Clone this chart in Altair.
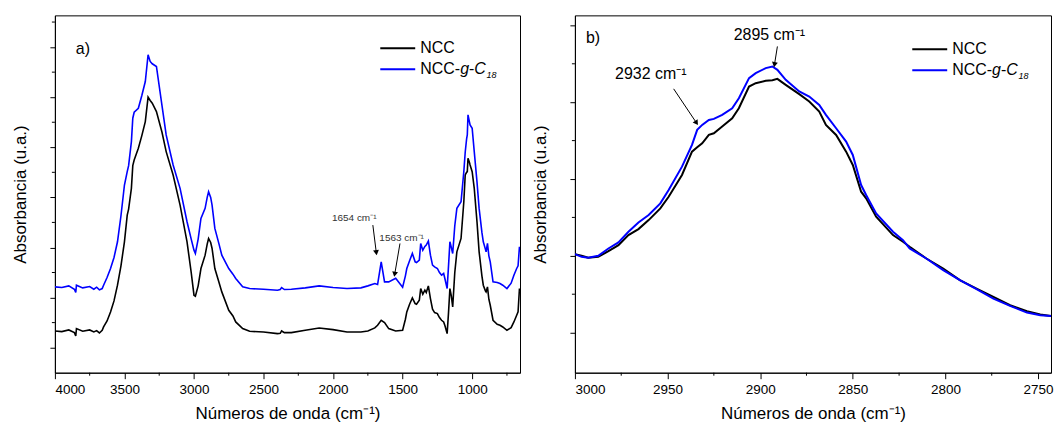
import altair as alt
import pandas as pd

FONT = "Liberation Sans"

# ---------------- panel a) data (wavenumber cm-1, absorbance a.u.) ----------------
wn_a = [4000, 3950, 3900, 3860, 3850, 3845, 3800, 3750, 3720, 3700, 3680, 3660, 3650,
        3625, 3600, 3575, 3550, 3525, 3500, 3480, 3470, 3450, 3440, 3430, 3400, 3375,
        3350, 3330, 3315, 3300, 3270, 3230, 3200, 3150, 3100, 3050, 3020, 3000, 2990,
        2970, 2950, 2920, 2905, 2895, 2880, 2870, 2850, 2820, 2800, 2750, 2720, 2700,
        2650, 2600, 2500, 2400, 2380, 2370, 2350, 2300, 2200, 2100, 2000, 1900, 1800,
        1750, 1700, 1680, 1654, 1630, 1600, 1550, 1500, 1480, 1470, 1450, 1430, 1410,
        1400, 1380, 1370, 1355, 1340, 1330, 1315, 1300, 1285, 1270, 1250, 1235, 1220,
        1205, 1195, 1180, 1170, 1160, 1150, 1140, 1125, 1110, 1080, 1060, 1050, 1040,
        1035, 1030, 1020, 1015, 1000, 985, 965, 950, 930, 920, 905, 900, 890, 880,
        870, 850, 820, 800, 780, 750, 720, 700, 680, 670, 660, 656]
abs_a_ncc = [125, 123, 128, 120, 110, 132, 124, 128, 122, 126, 119, 127, 137,
             155, 182, 215, 262, 320, 392, 472, 490, 552, 620, 637, 672, 710,
             752, 825, 815, 807, 782, 720, 662, 592, 502, 392, 300, 232, 229,
             260, 312, 352, 385, 402, 390, 372, 312, 270, 242, 187, 170, 152,
             132, 124, 122, 117, 118, 125, 120, 120, 127, 134, 129, 122, 122,
             125, 134, 142, 157, 150, 132, 125, 127, 160, 182, 205, 224, 207,
             205, 217, 252, 235, 247, 240, 260, 222, 190, 180, 177, 165, 157,
             152, 140, 117, 180, 252, 230, 197, 300, 362, 402, 512, 592, 600,
             602, 642, 630, 622, 602, 552, 450, 362, 290, 262, 245, 242, 257, 220,
             202, 157, 145, 142, 137, 127, 135, 152, 172, 182, 252, 242]
abs_a_c18 = [257, 255, 260, 250, 240, 262, 254, 258, 250, 256, 248, 252, 262,
             285, 312, 345, 392, 470, 562, 602, 620, 692, 762, 780, 792, 830,
             872, 952, 932, 925, 917, 800, 712, 622, 552, 452, 400, 367, 357,
             400, 462, 492, 525, 542, 525, 502, 432, 385, 352, 312, 295, 282,
             257, 252, 250, 247, 249, 255, 249, 250, 254, 260, 255, 252, 254,
             260, 267, 264, 332, 272, 272, 283, 256, 290, 312, 335, 357, 332,
             330, 337, 387, 367, 378, 382, 394, 352, 322, 317, 312, 300, 292,
             297, 280, 252, 320, 392, 375, 357, 440, 492, 512, 602, 660, 700,
             712, 772, 752, 742, 732, 662, 570, 492, 420, 392, 370, 362, 387, 350,
             332, 272, 270, 267, 262, 252, 268, 292, 312, 320, 377, 362]

# ---------------- panel b) data ----------------
wn_b = [3000, 2996.4, 2992.8, 2987.4, 2981.9, 2976.5, 2971.1, 2965.7, 2960.2, 2953.9,
        2949.4, 2942.2, 2936.8, 2934.0, 2931.3, 2927.7, 2925.0, 2920.5, 2915.1, 2911.5,
        2906.0, 2902.4, 2897.0, 2893.4, 2890.7, 2886.2, 2878.9, 2873.5, 2868.1, 2864.5,
        2859.0, 2853.6, 2850.0, 2845.5, 2842.8, 2837.4, 2828.3, 2822.9, 2819.3, 2810.3,
        2801.2, 2792.2, 2783.2, 2774.1, 2765.1, 2756.0, 2748.8, 2743.0]
abs_b_ncc = [355, 350, 344, 347, 364, 382, 412, 430, 457, 492,
             527, 592, 662, 675, 687, 712, 717, 737, 762, 792,
             857, 867, 874, 876, 880, 862, 834, 812, 782, 742,
             712, 662, 622, 542, 522, 467, 412, 392, 377, 342,
             312, 277, 252, 227, 202, 184, 174, 170]
abs_b_c18 = [355, 347, 344, 350, 372, 390, 422, 450, 472, 507,
             547, 617, 682, 727, 742, 757, 760, 772, 792, 822,
             882, 897, 912, 917, 907, 877, 842, 827, 802, 772,
             732, 692, 652, 562, 532, 477, 422, 397, 372, 342,
             307, 277, 250, 222, 200, 180, 172, 170]

# ticks
xticks_a = [4000, 3500, 3000, 2500, 2000, 1500, 1000]
xminor_a = [3750, 3250, 2750, 2250, 1750, 1250, 750]
xticks_b = [3000, 2950, 2900, 2850, 2800, 2750]
xminor_b = [2975, 2925, 2875, 2825, 2775]
yticks_a = [75, 225, 375, 525, 675, 825, 975]
yminor_a = [150, 300, 450, 600, 750, 900, 1050]
yticks_b = [120, 350, 580, 810, 1040]
yminor_b = [235, 465, 695, 925]

# annotations
ann_a_text = ["1654 cm⁻¹", "1563 cm⁻¹"]
ann_a_x = [1848, 1507]
ann_a_y = [462, 402]
arr_a = {"x": [1714, 1519], "y": [442, 387], "x2": [1690, 1556], "y2": [362, 297],
         "ang": [172, 190]}
ann_b_text = ["2895 cm⁻¹", "2932 cm⁻¹"]
ann_b_x = [2895, 2959]
ann_b_y = [1012, 894]
arr_b = {"x": [2890.7, 2946.7], "y": [977, 850], "x2": [2892.2, 2934.6], "y2": [925, 750],
         "ang": [190, 147]}

W_A, W_B, H = 466, 477, 358
BLACK, BLUE = "#000000", "#0000FF"
YDOM = [0, 1070]


def ydef(ticks):
    return alt.Y("y:Q", scale=alt.Scale(domain=YDOM, nice=False, zero=False),
                 axis=alt.Axis(labels=False, values=ticks, tickSize=5, grid=False,
                               title="Absorbancia (u.a.)", titlePadding=20,
                               titleFontSize=17, titleFontWeight="normal"))


def panel(xdom, xticks, xminor, yticks, yminor, wn, ncc, wn2, c18, width, lw,
          ann_text, ann_x, ann_y, arr, ann_size, ann_color, tag, tag_pos, leg_pos):
    xs = alt.Scale(domain=xdom, reverse=True, nice=False, zero=False)
    xax = alt.Axis(values=xticks, tickSize=6, grid=False, labelPadding=4, format="d",
                   title="Números de onda (cm⁻¹)", titlePadding=9,
                   titleFontSize=17, titleFontWeight="normal")
    X = alt.X("x:Q", scale=xs, axis=xax)
    Y = ydef(yticks)

    d_ncc = pd.DataFrame({"x": wn, "y": ncc})
    d_c18 = pd.DataFrame({"x": wn2, "y": c18})
    l1 = alt.Chart(d_ncc).mark_line(color=BLACK, strokeWidth=lw, clip=True).encode(x=X, y=Y)
    l2 = alt.Chart(d_c18).mark_line(color=BLUE, strokeWidth=lw, clip=True).encode(x=X, y=Y)

    minx = alt.Chart(pd.DataFrame({"x": xminor})).mark_rule(color=BLACK, strokeWidth=1).encode(
        x=alt.X("x:Q", scale=xs), y=alt.value(H), y2=alt.value(H + 3))
    miny = alt.Chart(pd.DataFrame({"y": yminor})).mark_rule(color=BLACK, strokeWidth=1).encode(
        y=alt.Y("y:Q", scale=alt.Scale(domain=YDOM, nice=False, zero=False)),
        x=alt.value(0), x2=alt.value(-3))

    ad = pd.DataFrame({"x": ann_x, "y": ann_y, "t": ann_text})
    at = alt.Chart(ad).mark_text(font=FONT, fontSize=ann_size, color=ann_color,
                                 align="center", baseline="middle").encode(
        x=alt.X("x:Q", scale=xs), y=alt.Y("y:Q", scale=alt.Scale(domain=YDOM)), text="t:N")
    rd = pd.DataFrame(arr)
    ar = alt.Chart(rd).mark_rule(color=BLACK, strokeWidth=1).encode(
        x=alt.X("x:Q", scale=xs), y=alt.Y("y:Q", scale=alt.Scale(domain=YDOM)),
        x2="x2:Q", y2="y2:Q")
    ah = alt.Chart(rd).mark_point(shape="triangle", filled=True, color=BLACK, size=35,
                                  opacity=1).encode(
        x=alt.X("x2:Q", scale=xs), y=alt.Y("y2:Q", scale=alt.Scale(domain=YDOM)),
        angle=alt.Angle("ang:Q", scale=None))

    tg = alt.Chart(pd.DataFrame({"t": [tag]})).mark_text(
        font=FONT, fontSize=16, align="left", baseline="middle", color=BLACK).encode(
        x=alt.value(tag_pos[0]), y=alt.value(tag_pos[1]), text="t:N")

    lx, ly1, ly2 = leg_pos
    leg_lines = []
    for yy, col in [(ly1, BLACK), (ly2, BLUE)]:
        leg_lines.append(alt.Chart(pd.DataFrame({"a": [0]})).mark_rule(
            color=col, strokeWidth=2).encode(
            x=alt.value(lx), x2=alt.value(lx + 35), y=alt.value(yy), y2=alt.value(yy)))
    tx = lx + 40
    pieces = [("NCC", tx, ly1, 16, "normal", 0),
              ("NCC-", tx, ly2, 16, "normal", 0),
              ("g", tx + 40, ly2, 16, "italic", 0),
              ("-", tx + 48.9, ly2, 16, "normal", 0),
              ("C", tx + 54.2, ly2, 16, "italic", 0),
              ("18", tx + 66.5, ly2, 9, "italic", 6)]
    leg_text = []
    for t, px, py, fs, st, dy in pieces:
        leg_text.append(alt.Chart(pd.DataFrame({"t": [t]})).mark_text(
            font=FONT, fontSize=fs, fontStyle=st, align="left", baseline="middle",
            color=BLACK, dy=dy).encode(x=alt.value(px), y=alt.value(py), text="t:N"))

    return alt.layer(l1, l2, minx, miny, ar, ah, at, tg, *leg_lines, *leg_text).properties(
        width=width, height=H)


pa = panel([656, 4000], xticks_a, xminor_a, yticks_a, yminor_a, wn_a, abs_a_ncc, wn_a,
           abs_a_c18, W_A, 1.6, ann_a_text, ann_a_x, ann_a_y, arr_a, 10, "#333333",
           "a)", (21, 34), (326, 33, 54))
pb = panel([2743, 3000], xticks_b, xminor_b, yticks_b, yminor_b, wn_b, abs_b_ncc, wn_b,
           abs_b_c18, W_B, 2, ann_b_text, ann_b_x, ann_b_y, arr_b, 16, BLACK,
           "b)", (11, 23), (338, 34, 55))

chart = alt.hconcat(pa, pb, spacing=10).properties(
    padding={"left": 11, "top": 14, "right": 2, "bottom": 2},
    background="white"
).configure_view(stroke=BLACK, strokeWidth=1).configure_axis(
    domainColor=BLACK, tickColor=BLACK, labelColor=BLACK, titleColor=BLACK,
    labelFont=FONT, titleFont=FONT, labelFontSize=13.5, titleFontSize=17,
    titleFontWeight="normal", domainWidth=1, tickWidth=1
)

chart.save("out.html", embed_options={"renderer": "svg", "actions": False})
